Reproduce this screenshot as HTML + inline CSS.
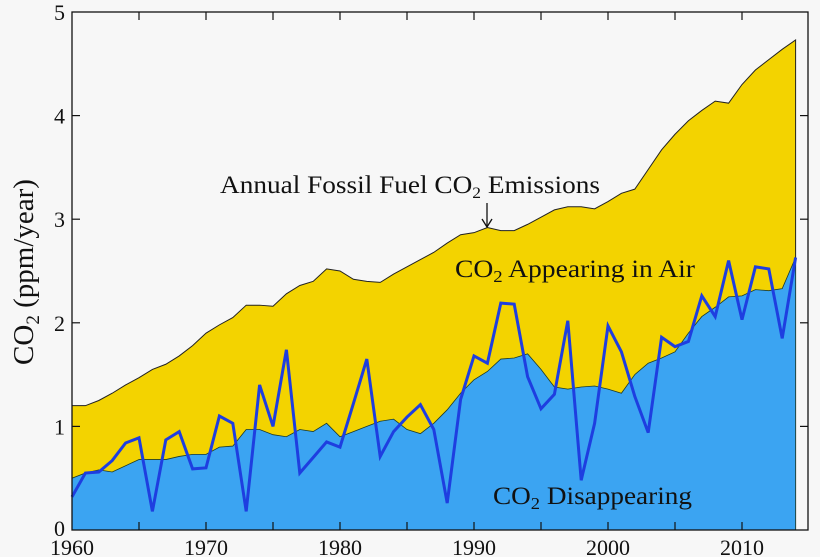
<!DOCTYPE html>
<html><head><meta charset="utf-8"><style>
body{margin:0;background:#f7f7f7;}
svg{display:block;font-family:"Liberation Serif",serif;}
</style></head><body>
<svg id="chart" width="820" height="557" viewBox="0 0 820 557" xmlns="http://www.w3.org/2000/svg">
<rect width="820" height="557" fill="#f7f7f7"/>
<g id="plot"></g>
<text transform="translate(33,272) rotate(-90)" text-anchor="middle" font-size="29" fill="#111">CO<tspan font-size="19" dy="6">2</tspan><tspan dy="-6"> (ppm/year)</tspan></text>
<text x="220" y="193" font-size="25" fill="#111" textLength="380" lengthAdjust="spacingAndGlyphs">Annual Fossil Fuel CO<tspan font-size="16" dy="5">2</tspan><tspan dy="-5"> Emissions</tspan></text>
<g stroke="#111" stroke-width="1.3" fill="none"><line x1="487" y1="203" x2="487" y2="227"/><polyline points="482,219 487,227 492,219"/></g>
<text x="455" y="277" font-size="25" fill="#111" textLength="240" lengthAdjust="spacingAndGlyphs">CO<tspan font-size="17" dy="5">2</tspan><tspan dy="-5"> Appearing in Air</tspan></text>
<text x="493" y="504" font-size="25" fill="#111" textLength="199" lengthAdjust="spacingAndGlyphs">CO<tspan font-size="17" dy="5">2</tspan><tspan dy="-5"> Disappearing</tspan></text>
</svg>
<script>
const years=[];for(let y=1960;y<=2014;y++)years.push(y);
const emissions=[1.2,1.2,1.25,1.32,1.4,1.47,1.55,1.6,1.68,1.78,1.9,1.98,2.05,2.17,2.17,2.16,2.28,2.36,2.4,2.52,2.5,2.42,2.4,2.39,2.47,2.54,2.61,2.68,2.77,2.85,2.87,2.92,2.89,2.89,2.95,3.02,3.09,3.12,3.12,3.1,3.17,3.25,3.29,3.48,3.67,3.82,3.95,4.05,4.14,4.12,4.3,4.44,4.54,4.64,4.73];
const disappearingSmooth=[0.5,0.55,0.58,0.56,0.62,0.68,0.68,0.68,0.71,0.73,0.73,0.8,0.81,0.97,0.97,0.92,0.9,0.97,0.95,1.03,0.9,0.95,1.0,1.05,1.07,0.97,0.93,1.03,1.16,1.32,1.45,1.53,1.65,1.66,1.7,1.55,1.38,1.36,1.38,1.39,1.36,1.32,1.5,1.61,1.66,1.72,1.9,2.06,2.15,2.25,2.26,2.32,2.31,2.33,2.63];
const disappearingAnnual=[0.32,0.55,0.56,0.67,0.84,0.89,0.18,0.87,0.95,0.59,0.6,1.1,1.03,0.18,1.4,1.0,1.74,0.55,0.7,0.85,0.8,1.22,1.65,0.71,0.95,1.09,1.21,0.97,0.26,1.26,1.68,1.61,2.19,2.18,1.48,1.17,1.31,2.02,0.48,1.03,1.97,1.72,1.29,0.94,1.86,1.77,1.82,2.26,2.06,2.6,2.03,2.54,2.52,1.85,2.63];
const xTicks=[1960,1970,1980,1990,2000,2010];
const yTicks=[0,1,2,3,4,5];
const X=y=>72+(y-1960)*13.4;
const Y=v=>530-v*103.6;
const NS="http://www.w3.org/2000/svg";
const g=document.getElementById('plot');
function mk(t,a){const e=document.createElementNS(NS,t);for(const k in a)e.setAttribute(k,a[k]);g.appendChild(e);return e;}
function area(vals){let d=`M${X(years[0])},${Y(0)}`;vals.forEach((v,i)=>d+=`L${X(years[i])},${Y(v)}`);return d+`L${X(years[years.length-1])},${Y(0)}Z`;}
function line(vals){return vals.map((v,i)=>(i?'L':'M')+X(years[i])+','+Y(v)).join('');}
let e=mk('path',{d:area(emissions),fill:'#f3d300',stroke:'#222','stroke-width':1});


e=mk('path',{d:area(disappearingSmooth),fill:'#3ba4f2',stroke:'#1c3a2a','stroke-width':0.8});


e=mk('path',{d:line(disappearingAnnual),fill:'none',stroke:'#1e3ee0','stroke-width':3,'stroke-linejoin':'miter'});


e=mk('rect',{x:72,y:Y(5),width:736,height:Y(0)-Y(5),fill:'none',stroke:'#111','stroke-width':1.3});


for(let yr=1965;yr<=2010;yr+=5){
 e=mk('line',{x1:X(yr),x2:X(yr),y1:Y(0),y2:Y(0)-8,stroke:'#111','stroke-width':1.2});
 
 
 e=mk('line',{x1:X(yr),x2:X(yr),y1:Y(5),y2:Y(5)+8,stroke:'#111','stroke-width':1.2});
 
 
}
xTicks.forEach(yr=>{
 const t=mk('text',{x:X(yr),y:555,'text-anchor':'middle','font-size':22,fill:'#111'});t.textContent=yr;
 
 
});
yTicks.forEach(v=>{
 if(v>0&&v<5){
  e=mk('line',{x1:72,x2:80,y1:Y(v),y2:Y(v),stroke:'#111','stroke-width':1.2});
  
  
  e=mk('line',{x1:800,x2:808,y1:Y(v),y2:Y(v),stroke:'#111','stroke-width':1.2});
  
  
 }
 const t=mk('text',{x:65,y:Y(v)+(v===0?6:8),'text-anchor':'end','font-size':22,fill:'#111'});t.textContent=v;
 
 
});
</script>
</body></html>
